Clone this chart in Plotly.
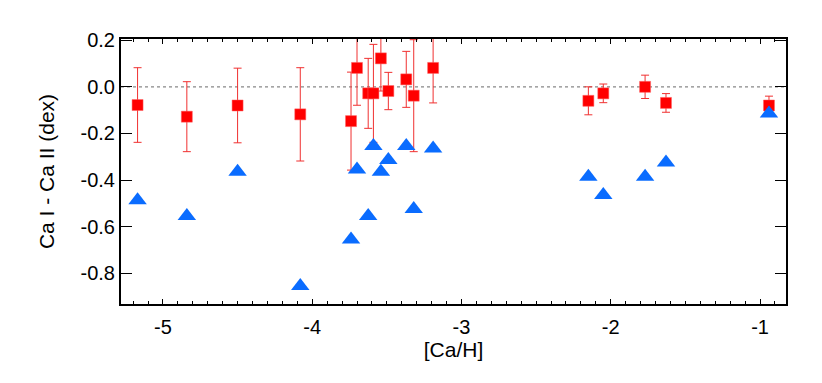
import plotly.graph_objects as go

# Red squares: Ca I - Ca II (with errors)
ca_h_sq = [-5.17, -4.84, -4.50, -4.08, -3.74, -3.70, -3.625, -3.59, -3.54, -3.49,
           -3.37, -3.32, -3.19, -2.15, -2.05, -1.77, -1.63, -0.94]
diff_sq = [-0.078, -0.128, -0.080, -0.118, -0.147, 0.081, -0.028, -0.028, 0.122, -0.018,
           0.032, -0.038, 0.081, -0.060, -0.028, 0.000, -0.069, -0.080]
err_sq = [0.16, 0.15, 0.16, 0.20, 0.21, 0.16, 0.15, 0.21, 0.14, 0.08,
          0.12, 0.24, 0.15, 0.06, 0.04, 0.05, 0.04, 0.04]

# Blue triangles
ca_h_tri = [-5.17, -4.84, -4.50, -4.08, -3.74, -3.70, -3.625, -3.59, -3.54, -3.49,
            -3.37, -3.32, -3.19, -2.15, -2.05, -1.77, -1.63, -0.94]
diff_tri = [-0.486, -0.554, -0.364, -0.854, -0.654, -0.354, -0.554, -0.254, -0.364, -0.314,
            -0.254, -0.524, -0.264, -0.386, -0.464, -0.386, -0.324, -0.114]

x_ticks = [-5, -4, -3, -2, -1]
x_ticktext = ["-5", "-4", "-3", "-2", "-1"]
y_ticks = [0.2, 0.0, -0.2, -0.4, -0.6, -0.8]
y_ticktext = ["0.2", "0.0", "-0.2", "-0.4", "-0.6", "-0.8"]

FONT = "Liberation Sans, Arial, Helvetica, sans-serif"
FS = 20
FT = 21

fig = go.Figure()
fig.add_trace(go.Scatter(
    x=ca_h_sq, y=diff_sq, mode="markers",
    marker=dict(symbol="square", size=11, color="#ff0000",
                line=dict(color="#ff6060", width=0.5)),
    error_y=dict(type="data", array=err_sq, visible=True,
                 color="#f03030", thickness=1, width=4),
    showlegend=False,
))
fig.add_trace(go.Scatter(
    x=ca_h_tri, y=diff_tri, mode="markers",
    marker=dict(symbol="triangle-up", size=16, color="#0a6cff",
                line=dict(width=0)),
    showlegend=False,
))

fig.add_shape(type="line", xref="paper", x0=0, x1=1, yref="y", y0=0, y1=0,
              line=dict(color="#888888", width=1.2, dash="dot"), layer="below")

fig.update_layout(
    width=822, height=383,
    margin=dict(l=113, r=44, t=31, b=87, autoexpand=False),
    paper_bgcolor="white", plot_bgcolor="white",
    font=dict(family=FONT, size=FS, color="black"),
    xaxis=dict(
        range=[-5.281, -0.826],
        tickvals=x_ticks, ticktext=x_ticktext,
        ticks="inside", ticklen=5, tickwidth=1, tickcolor="black",
        minor=dict(dtick=0.1, tick0=-5, ticks="inside", ticklen=3, tickwidth=1, tickcolor="black"),
        showline=True, linewidth=2, linecolor="black", mirror="ticks",
        showgrid=False, zeroline=False,
        ticklabelstandoff=4,
        title=dict(text="[Ca/H]", font=dict(size=FT), standoff=0),
        tickfont=dict(size=FS),
    ),
    yaxis=dict(
        range=[-0.931, 0.205],
        tickvals=y_ticks, ticktext=y_ticktext,
        ticks="inside", ticklen=11, tickwidth=1, tickcolor="black",
        showline=True, linewidth=2, linecolor="black", mirror="ticks",
        showgrid=False, zeroline=False,
        title=dict(text="Ca I - Ca II (dex)", font=dict(size=FT), standoff=20),
        tickfont=dict(size=FS),
    ),
)

fig.write_html("out.html")
